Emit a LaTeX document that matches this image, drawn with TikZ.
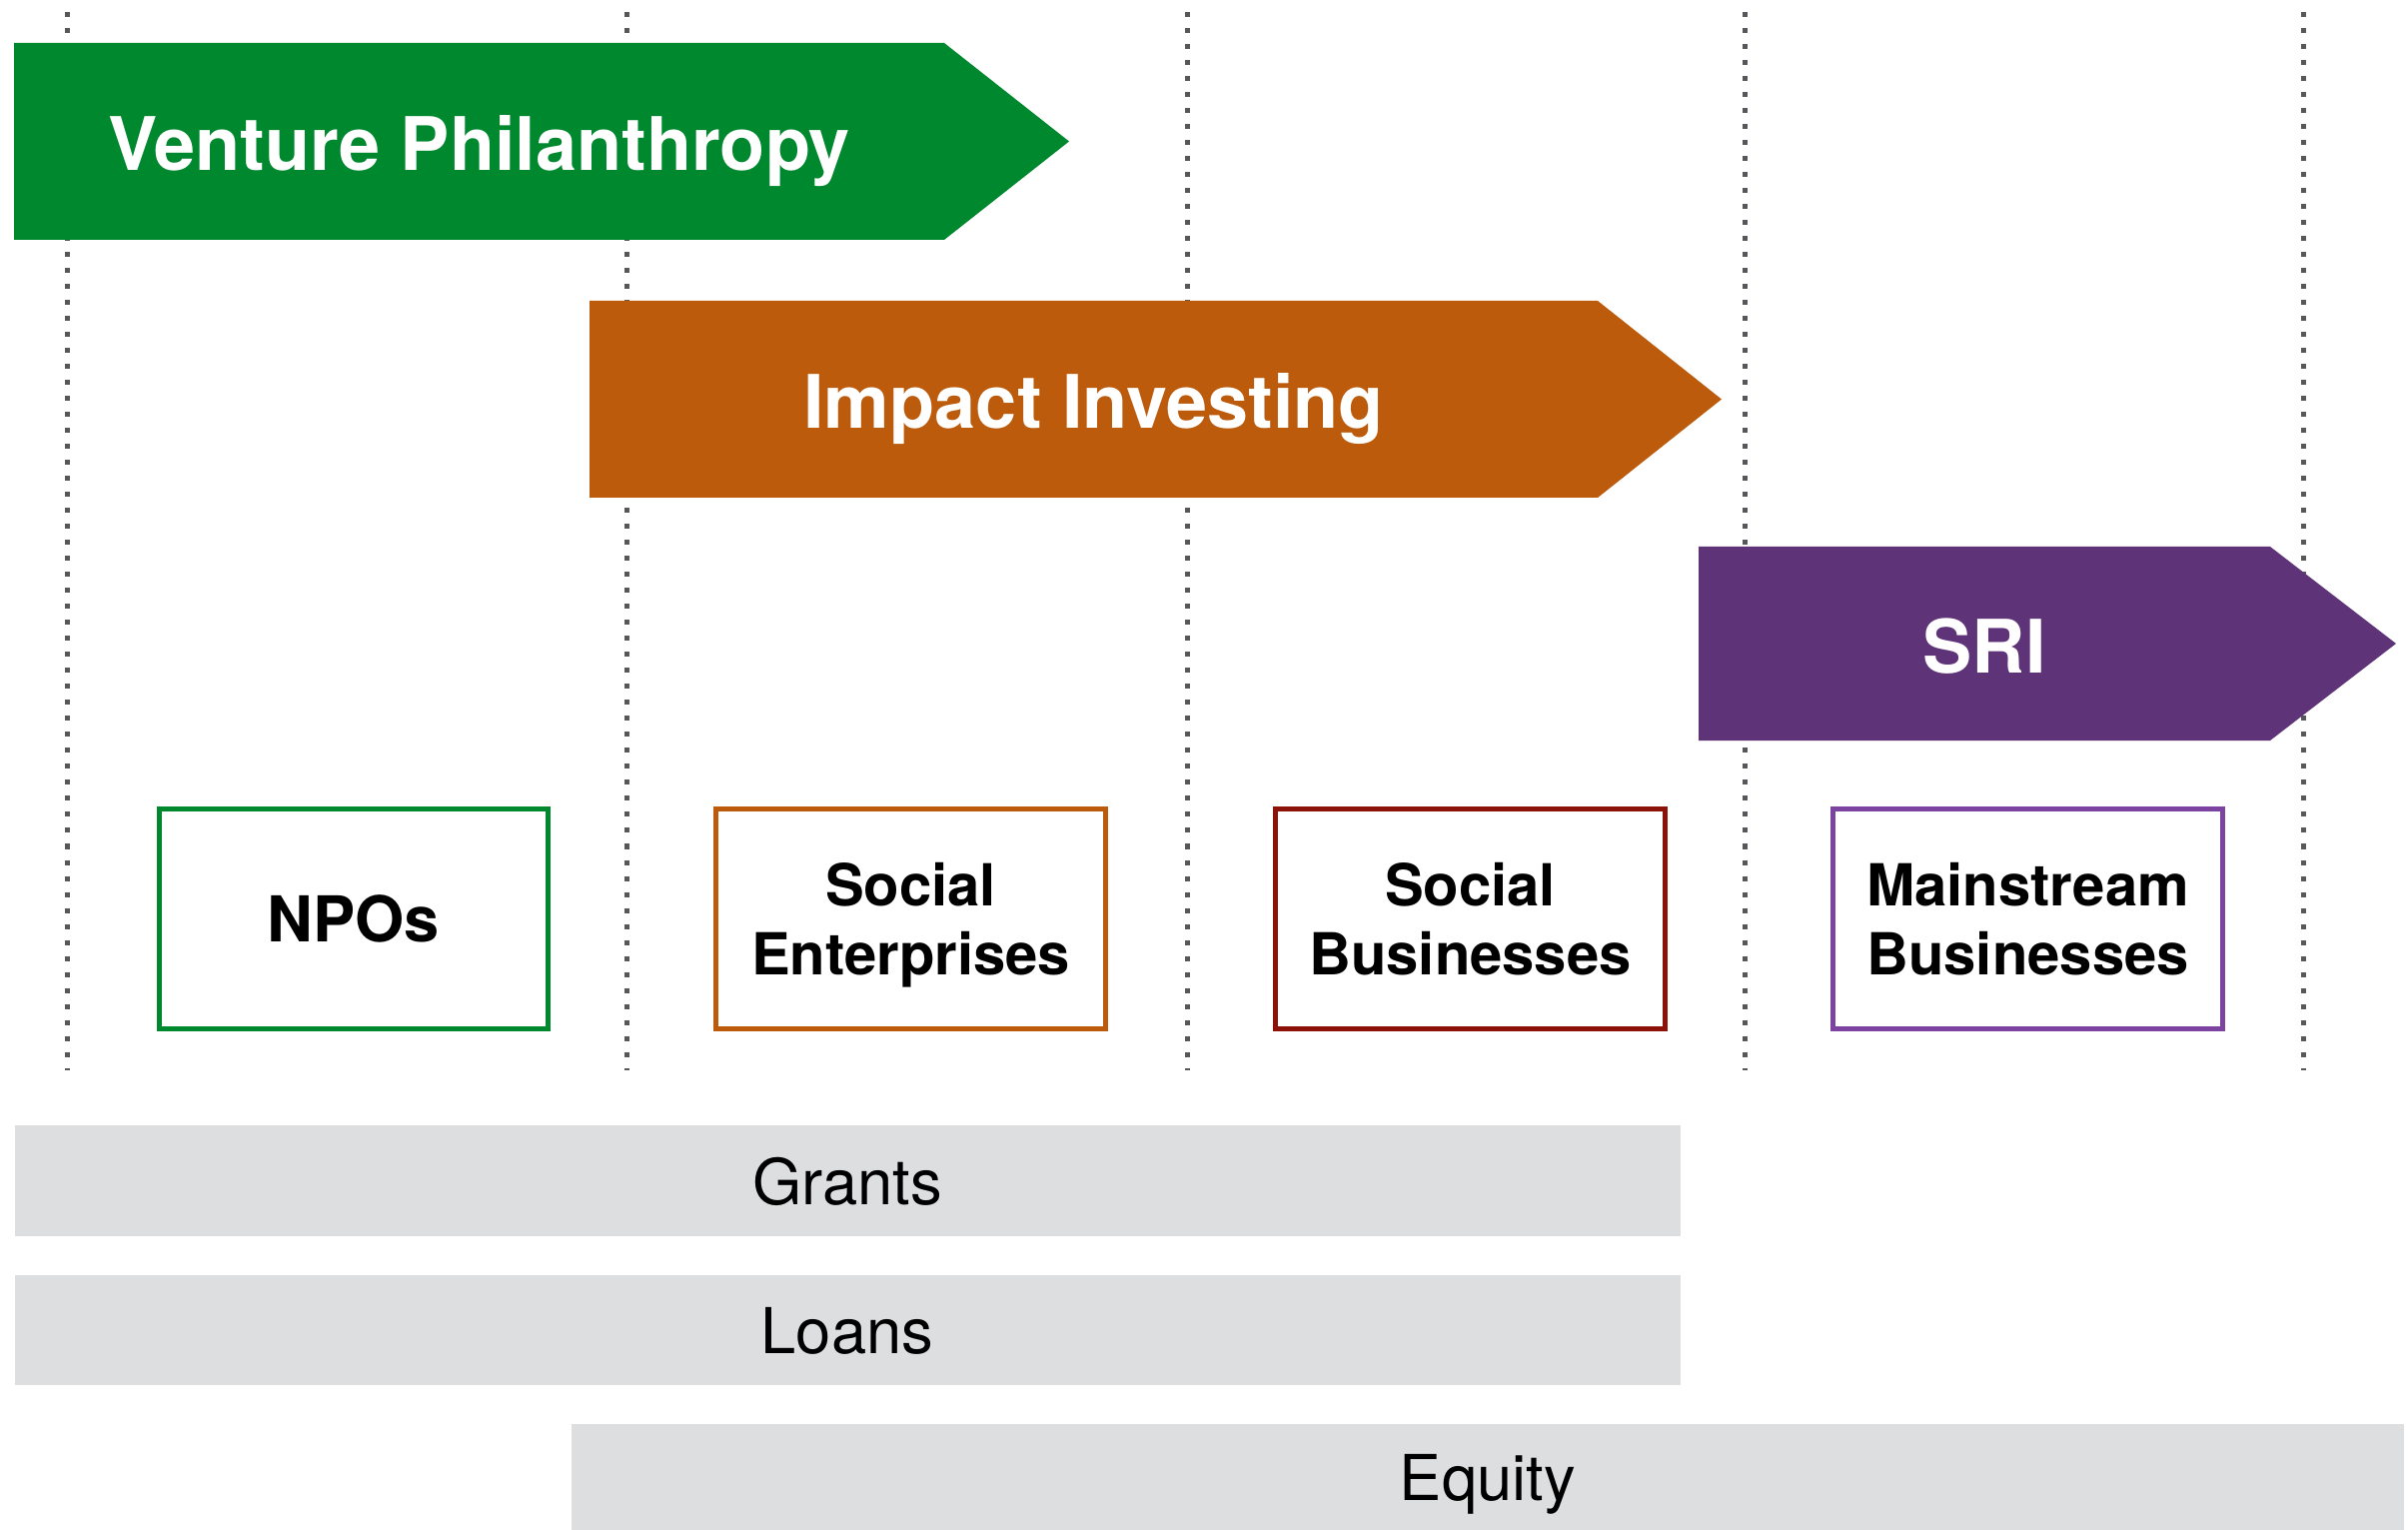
\documentclass[tikz,border=0pt]{standalone}
\usepackage{fontspec}
\setmainfont{TeX Gyre Heros}
\usepackage{tikz}

\definecolor{vpgreen}{RGB}{0,136,46}
\definecolor{iiorange}{RGB}{189,91,13}
\definecolor{sripurple}{RGB}{94,51,120}
\definecolor{sbred}{RGB}{139,17,9}
\definecolor{mbpurple}{RGB}{124,67,160}
\definecolor{bargray}{RGB}{221,222,224}
\definecolor{dotgray}{RGB}{85,87,90}

\begin{document}
\begin{tikzpicture}[x=0.01cm,y=-0.01cm,
    band/.style={text=white,anchor=base,inner sep=0pt,font=\bfseries\fontsize{21}{25}\selectfont},
    org/.style={draw,line width=0.05cm,fill=white,minimum width=3.89cm,minimum height=2.2cm,align=center,text depth=0pt,font=\bfseries\fontsize{16.5}{19.7}\selectfont},
    tool/.style={fill=bargray,inner sep=0pt,text depth=0pt,font=\fontsize{18}{22}\selectfont}]
    \useasboundingbox (0,0) rectangle (2410,1531);
    % columns
    \foreach \x in {67.6,627,1188,1746,2305}
        \draw[dotgray,line width=0.05cm,dash pattern=on 0.05cm off 0.11cm] (\x,12) -- (\x,1071);
    % investment approaches
    \def\vpArrow{(14,43) -- (945,43) -- (1070,141.5) -- (945,240) -- (14,240) -- cycle}
    \def\iiArrow{(590,301) -- (1599,301) -- (1723,399.5) -- (1599,498) -- (590,498) -- cycle}
    \def\sriArrow{(1700,547) -- (2272,547) -- (2398,644) -- (2272,741) -- (1700,741) -- cycle}
    \fill[vpgreen] \vpArrow;
    \fill[iiorange] \iiArrow;
    \fill[sripurple] \sriArrow;
    \node[band] (vp) at (479.5,171) {Venture Philanthropy};
    \node[band] (ii) at (1094.5,429) {Impact Investing};
    \node[band] (sri) at (1986,673) {SRI};
    % organisations
    \node[org,draw=vpgreen,font=\bfseries\fontsize{18}{21}\selectfont] (npo) at (354,919.5) {NPOs};
    \node[org,draw=iiorange] (se) at (911.5,919.5) {Social\\Enterprises};
    \node[org,draw=sbred] (sb) at (1471.5,919.5) {Social\\Businesses};
    \node[org,draw=mbpurple] (mb) at (2029.5,919.5) {Mainstream\\Businesses};
    % instruments
    \node[tool,minimum width=16.66cm,minimum height=1.11cm] (grants) at (848,1181.5) {Grants};
    \node[tool,minimum width=16.66cm,minimum height=1.10cm] (loans) at (848,1331) {Loans};
    \node[tool,minimum width=18.32cm,minimum height=1.06cm] (equity) at (1489,1478) {Equity};
\end{tikzpicture}
\end{document}
